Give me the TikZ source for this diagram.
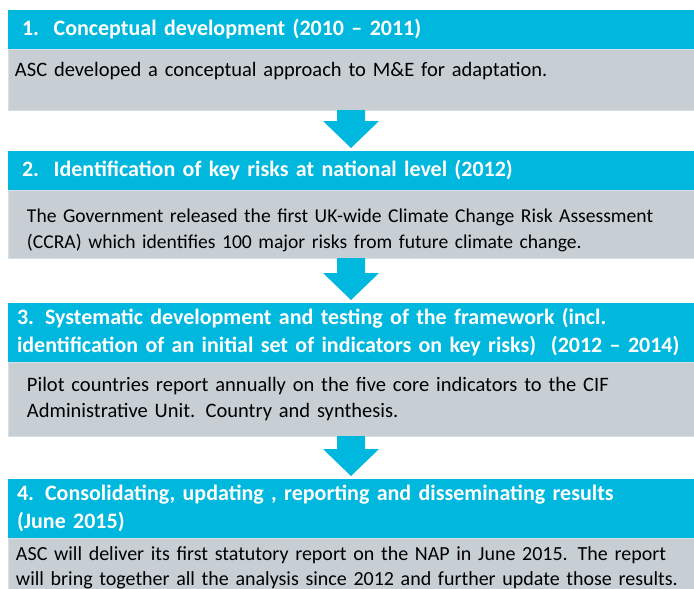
\documentclass[tikz,border=0pt]{standalone}
\usepackage{fontspec}
\setmainfont{Carlito}
\usetikzlibrary{positioning,calc}

\definecolor{stagecyan}{RGB}{0,183,222}
\definecolor{notegray}{RGB}{199,207,213}
\definecolor{noteedge}{RGB}{214,224,230}

\tikzset{
  stagehead/.style={fill=stagecyan, text=white, anchor=north west, align=left,
    minimum width=690pt, inner ysep=0pt, outer sep=0pt,
    font=\bfseries\fontsize{22}{28}\selectfont},
  stagenote/.style={fill=notegray, draw=noteedge, line width=0.8pt, align=left,
    minimum width=690pt, inner ysep=0pt, outer sep=0pt,
    font=\fontsize{20.5}{25.5}\selectfont},
  downarrow/.style={fill=stagecyan}
}

\begin{document}
\begin{tikzpicture}[x=1pt,y=1pt]
  \useasboundingbox (0,0) rectangle (694,-589);

  % Stage 1
  \node[stagehead, inner xsep=14pt, text width=662pt, minimum height=39pt] (head1) at (8,-10)
    {1.~~Conceptual development (2010 -- 2011)};
  \node[stagenote, below=0pt of head1, inner xsep=7pt, text width=676pt, minimum height=61pt, text depth=20pt] (note1)
    {ASC developed a conceptual approach to M\&E for adaptation.};

  % Stage 2
  \node[stagehead, inner xsep=14pt, text width=662pt, minimum height=39pt] (head2) at (8,-151)
    {2.~~Identification of key risks at national level (2012)};
  \node[stagenote, below=0pt of head2, inner xsep=19pt, text width=652pt, minimum height=68pt,
        font=\fontsize{19.6}{25.5}\selectfont] (note2)
    {\rule{0pt}{26pt}The Government released the first UK-wide Climate Change Risk Assessment\\
     (CCRA) which identifies 100 major risks from future climate change.};

  % Stage 3
  \node[stagehead, inner xsep=9pt, text width=672pt, minimum height=59pt] (head3) at (8,-303)
    {3. Systematic development and testing of the framework (incl.\\
     identification of an initial set of indicators on key risks)~~(2012 -- 2014)};
  \node[stagenote, below=0pt of head3, inner xsep=19pt, text width=652pt, minimum height=74pt] (note3)
    {Pilot countries report annually on the five core indicators to the CIF\\
     Administrative Unit. Country and synthesis.};

  % Stage 4
  \node[stagehead, inner xsep=9pt, text width=672pt, minimum height=59pt] (head4) at (8,-479)
    {4. Consolidating, updating , reporting and disseminating results\\
     (June 2015)};
  \node[stagenote, below=0pt of head4, inner xsep=8pt, text width=674pt, minimum height=60pt,
        font=\fontsize{20}{25}\selectfont] (note4)
    {ASC will deliver its first statutory report on the NAP in June 2015. The report\\
     will bring together all the analysis since 2012 and further update those results.};

  % Arrows between the stages
  \foreach \from/\to in {note1/head2, note2/head3, note3/head4}
    \fill[downarrow] let \p1=(\from.south), \p2=(\to.north) in
      (351pt-14pt,\y1) -- (351pt-14pt,\y2+30pt) -- (351pt-28pt,\y2+30pt)
      -- (351pt,\y2+3pt) -- (351pt+28pt,\y2+30pt) -- (351pt+14pt,\y2+30pt)
      -- (351pt+14pt,\y1) -- cycle;
\end{tikzpicture}
\end{document}
